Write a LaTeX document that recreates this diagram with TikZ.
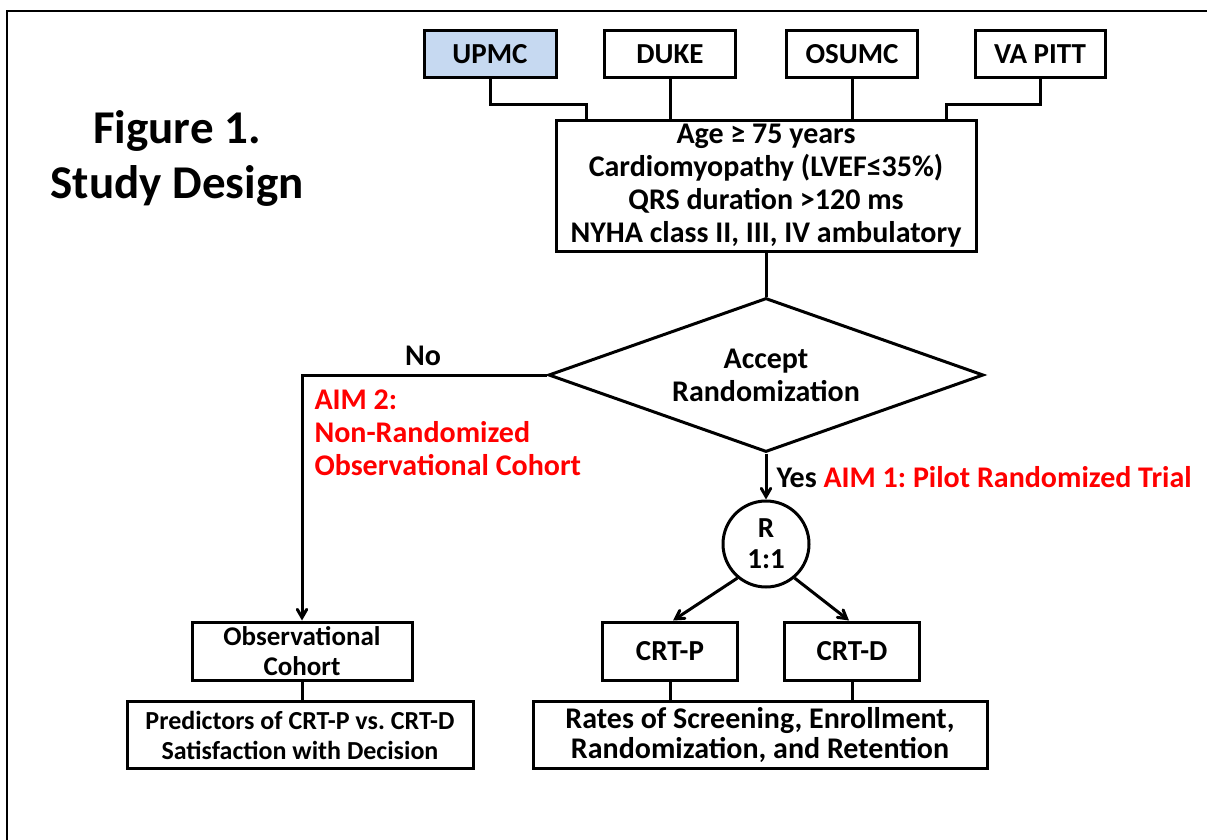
\documentclass[tikz,border=0pt]{standalone}
\usepackage{fontspec}
\setmainfont{Carlito}
\frenchspacing
\usetikzlibrary{arrows,positioning,shapes.geometric}
\definecolor{colsite}{RGB}{198,217,241}
\definecolor{colaim}{RGB}{255,0,0}
\tikzset{
  % SITE BOXES
  frameSite/.style={
    rectangle, draw, fill=white,
    minimum width=131pt, minimum height=47pt,
    inner sep=0pt,
    font=\fontsize{29}{33}\selectfont\bfseries
  },
  % CRITERIA BOX
  frameCriteria/.style={
    rectangle, draw,
    minimum width=420pt, minimum height=130pt,
    inner sep=0pt, align=center,
    font=\fontsize{30}{33}\selectfont\bfseries
  },
  % DECISION
  frameDecision/.style={
    diamond, draw, aspect=2.8,
    minimum width=435pt, minimum height=154pt,
    inner sep=0pt, align=center,
    font=\fontsize{30}{33}\selectfont\bfseries
  },
  % RANDOMIZATION
  frameRand/.style={
    circle, draw, minimum size=86pt,
    inner sep=0pt, align=center,
    font=\fontsize{29}{31}\selectfont\bfseries
  },
  % ARMS AND OUTCOMES
  frameArm/.style={
    rectangle, draw,
    minimum height=58pt,
    inner sep=0pt, align=center,
    font=\fontsize{29}{30}\selectfont\bfseries
  },
  frameOutcome/.style={
    rectangle, draw,
    minimum height=67pt,
    inner sep=0pt, align=center,
    font=\fontsize{30}{30}\selectfont\bfseries
  },
  % LABELS
  labelAim/.style={
    text=colaim, align=left, inner sep=0pt,
    font=\fontsize{30}{33}\selectfont\bfseries
  },
  labelFlow/.style={
    inner sep=0pt,
    font=\fontsize{30}{33}\selectfont\bfseries
  },
  % LINES
  lineLink/.style={draw, line width=3pt},
  lineFlow/.style={draw, line width=3pt, -angle 60}
}

\begin{document}
\begin{tikzpicture}[x=1pt,y=-1pt,line width=3pt]

\useasboundingbox (0,0) rectangle (1207,840);
\draw [line width=1.5pt] (7,840) |- (1207,11);

% Title
\node [align=center, inner sep=0pt, font=\fontsize{47}{55}\selectfont\bfseries] (title) at (177,158) {Figure 1.\\ Study Design};

% Sites
\node [frameSite, fill=colsite, minimum width=132pt] (site_upmc) at (490,54) {UPMC};
\node [frameSite] (site_duke) at (670,54) {DUKE};
\node [frameSite] (site_osumc) at (852,54) {OSUMC};
\node [frameSite, minimum width=130pt] (site_vapitt) at (1040,54) {VA PITT};

% Eligibility
\node [frameCriteria] (criteria) at (766,186) {Age ≥ 75 years\\ Cardiomyopathy (LVEF≤35\%)\\ QRS duration >120 ms\\ NYHA class II, III, IV ambulatory};

% Decision
\node [frameDecision] (decision) at (766,375) {Accept\\ Randomization};
\node [frameRand] (rand) at (766,544) {R\\ 1:1};

% Arms
\node [frameArm, minimum width=220pt, font=\fontsize{27}{30}\selectfont\bfseries] (obs) at (302,651) {Observational\\ Cohort};
\node [frameArm, minimum width=135pt] (crtp) at (670,651) {CRT-P};
\node [frameArm, minimum width=135pt] (crtd) at (852,651) {CRT-D};

% Outcomes
\node [frameOutcome, minimum width=346pt, font=\fontsize{26}{30}\selectfont\bfseries] (pred) at (300,735) {Predictors of CRT-P vs. CRT-D\\ Satisfaction with Decision};
\node [frameOutcome, minimum width=454pt] (rates) at (760,735) {Rates of Screening, Enrollment,\\ Randomization, and Retention};

% Labels
\node [labelFlow] (lbl_no) at (423,356) {No};
\node [labelAim, anchor=west] (aim_two) at (313,433) {AIM 2:\\ Non-Randomized\\ Observational Cohort};
\node [labelFlow, anchor=west] (aim_one) at (775,477) {Yes \textcolor{colaim}{AIM 1: Pilot Randomized Trial}};

% Site lines
\path [lineLink] (site_upmc.south) -- ++(0,26) -| ([xshift=-180pt]criteria.north);
\path [lineLink] (site_duke.south) -- (site_duke.south |- criteria.north);
\path [lineLink] (site_osumc.south) -- (site_osumc.south |- criteria.north);
\path [lineLink] (site_vapitt.south) -- ++(0,26) -| ([xshift=180pt]criteria.north);

% Flow lines
\path [lineLink] (criteria.south) -- (decision.north);
\path [lineFlow] (decision.west) -| (obs.north);
\path [lineFlow] (decision.south) -- (rand.north);
\path [lineFlow] (rand.230) -- ([xshift=3pt]crtp.north);
\path [lineFlow] (rand.310) -- ([xshift=-3pt]crtd.north);

\path [lineLink] (obs.south) -- (obs.south |- pred.north);
\path [lineLink] (crtp.south) -- (crtp.south |- rates.north);
\path [lineLink] (crtd.south) -- (crtd.south |- rates.north);

\end{tikzpicture}
\end{document}
